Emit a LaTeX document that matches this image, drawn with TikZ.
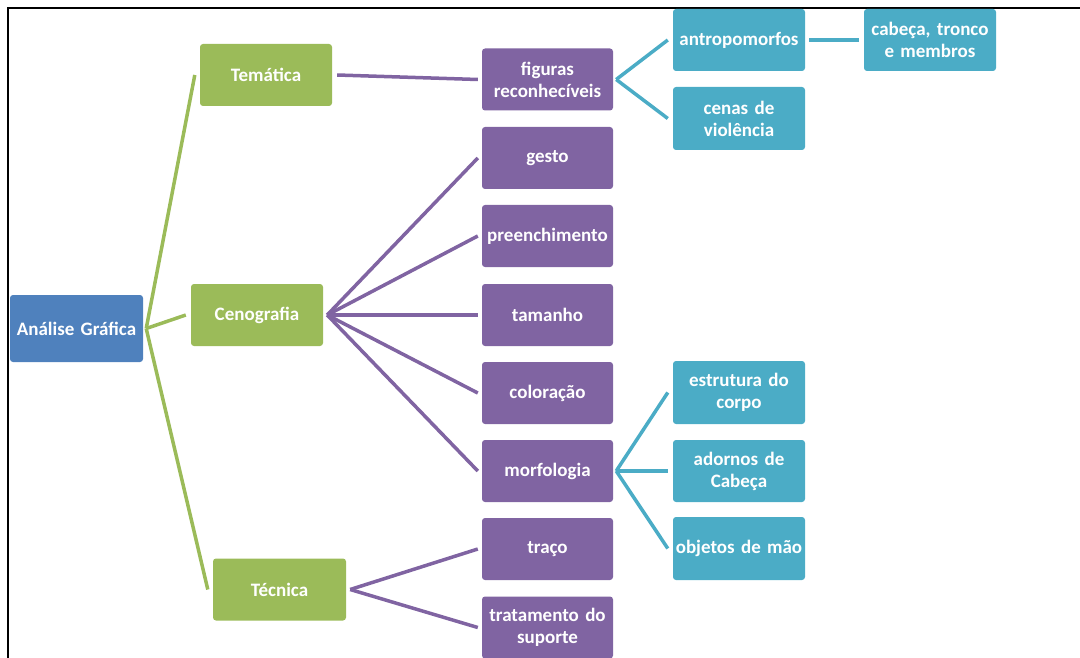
\documentclass[tikz,border=0pt]{standalone}
\usepackage{fontspec}
\setmainfont{Carlito}
\definecolor{cblue}{HTML}{4F81BD}
\definecolor{cgreen}{HTML}{9BBB59}
\definecolor{cpurple}{HTML}{8064A2}
\definecolor{cteal}{HTML}{4BACC6}
\begin{document}
\begin{tikzpicture}[x=1pt,y=-1pt,
  box/.style={rounded corners=3pt,minimum width=132pt,minimum height=62pt,inner sep=0pt,
    text=white,align=center,font=\fontsize{19}{22}\selectfont\bfseries,text width=131pt},
  bluebox/.style={box,fill=cblue},
  greenbox/.style={box,fill=cgreen},
  purplebox/.style={box,fill=cpurple},
  tealbox/.style={box,fill=cteal},
  gline/.style={draw=cgreen,line width=3.5pt},
  pline/.style={draw=cpurple,line width=3.5pt},
  tline/.style={draw=cteal,line width=3.5pt}]
\useasboundingbox (0,0) rectangle (1080,658);
\draw[line width=2pt] (8,658) -- (8,8) -- (1080,8);
\node[bluebox,minimum width=133pt,minimum height=67pt] (ag) at (76.5,328.5) {Análise Gráfica};
\node[greenbox] (tem) at (266,75) {Temática};
\node[greenbox] (cen) at (257,315) {Cenografia};
\node[greenbox,minimum width=133pt] (tec) at (279.5,589.5) {Técnica};
\node[purplebox,minimum width=131pt] (fig) at (547.5,79.5) {figuras\\reconhecíveis};
\node[purplebox,minimum width=131pt] (ges) at (547.5,158) {gesto};
\node[purplebox,minimum width=131pt] (pre) at (547.5,236) {preenchimento};
\node[purplebox,minimum width=131pt] (tam) at (547.5,315) {tamanho};
\node[purplebox,minimum width=131pt] (col) at (547.5,393) {coloração};
\node[purplebox,minimum width=131pt] (mor) at (547.5,471) {morfologia};
\node[purplebox,minimum width=131pt] (tra) at (547.5,549) {traço};
\node[purplebox,minimum width=131pt] (tsu) at (547.5,627.5) {tratamento do\\suporte};
\node[tealbox] (ant) at (739,40) {antropomorfos};
\node[tealbox] (cab) at (930,40) {cabeça, tronco\\e membros};
\node[tealbox,minimum height=63pt] (cvi) at (739,118.5) {cenas de\\violência};
\node[tealbox,minimum height=63pt] (est) at (739,392.5) {estrutura do\\corpo};
\node[tealbox] (ado) at (739,471) {adornos de\\Cabeça};
\node[tealbox,minimum height=63pt] (obj) at (739,548.5) {objetos de mão};
% green connectors
\draw[gline] ([xshift=3pt]ag.east) -- ([xshift=-5pt]tem.west);
\draw[gline] ([xshift=3pt]ag.east) -- ([xshift=-5pt]cen.west);
\draw[gline] ([xshift=3pt]ag.east) -- ([xshift=-5pt]tec.west);
% purple connectors
\foreach \n in {ges,pre,tam,col,mor}
  \draw[pline] ([xshift=4pt]cen.east) -- ([xshift=-4pt]\n.west);
\draw[pline] ([xshift=5pt]tem.east) -- ([xshift=-4pt]fig.west);
\draw[pline] ([xshift=4pt]tec.east) -- ([xshift=-4pt]tra.west);
\draw[pline] ([xshift=4pt]tec.east) -- ([xshift=-4pt]tsu.west);
% teal connectors
\draw[tline] ([xshift=3pt]fig.east) -- ([xshift=-5pt]ant.west);
\draw[tline] ([xshift=3pt]fig.east) -- ([xshift=-5pt]cvi.west);
\draw[tline] ([xshift=4pt]ant.east) -- ([xshift=-5pt]cab.west);
\draw[tline] ([xshift=3pt]mor.east) -- ([xshift=-5pt]est.west);
\draw[tline] ([xshift=3pt]mor.east) -- ([xshift=-5pt]ado.west);
\draw[tline] ([xshift=3pt]mor.east) -- ([xshift=-5pt]obj.west);
\end{tikzpicture}
\end{document}
